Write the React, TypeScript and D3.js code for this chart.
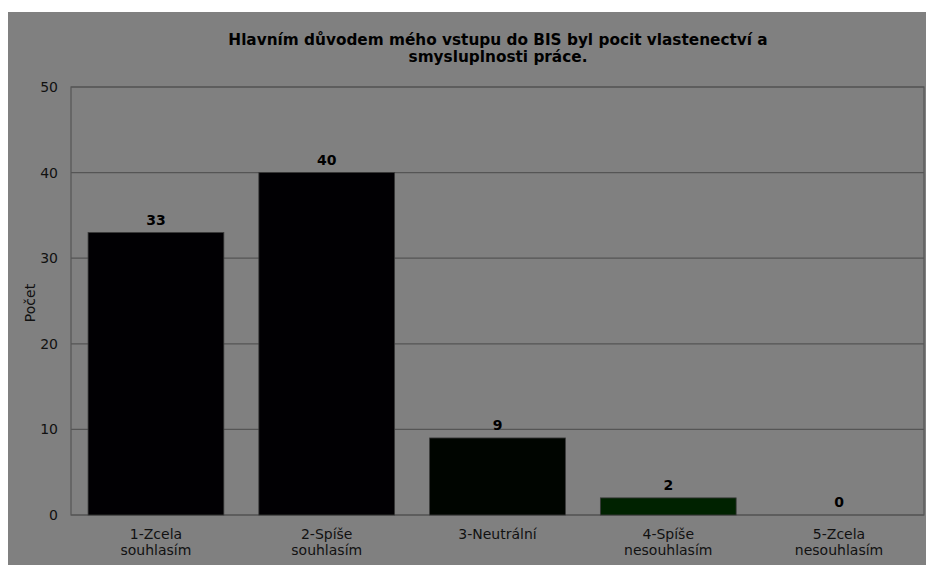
import React from "react";
import * as d3 from "d3";

const categories: string[][] = [
  ["1-Zcela", "souhlasím"],
  ["2-Spíše", "souhlasím"],
  ["3-Neutrální"],
  ["4-Spíše", "nesouhlasím"],
  ["5-Zcela", "nesouhlasím"],
];
const values: number[] = [33, 40, 9, 2, 0];
const barColors: string[] = ["#010003", "#010003", "#000500", "#002200", "#003000"];
const yTicks: number[] = [0, 10, 20, 30, 40, 50];
const titleLines: string[] = [
  "Hlavním důvodem mého vstupu do BIS byl pocit vlastenectví a",
  "smysluplnosti práce.",
];
const yLabel = "Počet";

export default function App() {
  const W = 926;
  const H = 565;
  const left = 71;
  const right = 924;
  const top = 87;
  const bottom = 515;
  const x = d3
    .scaleBand<number>()
    .domain(values.map((_, i) => i))
    .range([left, right])
    .paddingInner(0.205)
    .paddingOuter(0.1);
  const y = d3.scaleLinear().domain([0, 50]).range([bottom, top]);
  const font = "DejaVu Sans, sans-serif";
  const cx = 498;
  return (
    <svg
      width={W}
      height={H}
      style={{ position: "absolute", left: 0, top: 0, background: "#fff" }}
      fontFamily={font}
    >
      <rect x={8} y={12} width={W - 8} height={H - 12} fill="#808080" />
      {titleLines.map((t, i) => (
        <text
          key={i}
          x={cx}
          y={45 + i * 17}
          textAnchor="middle"
          fontSize={15.3}
          fontWeight="bold"
          fill="#000"
        >
          {t}
        </text>
      ))}
      {yTicks.map((t) => (
        <g key={t}>
          <line x1={left} x2={right} y1={y(t)} y2={y(t)} stroke="#555" strokeWidth={1.2} />
          <text x={58} y={y(t) + 5} textAnchor="end" fontSize={14} fill="#111">
            {t}
          </text>
        </g>
      ))}
      <rect
        x={left}
        y={top}
        width={right - left}
        height={bottom - top}
        fill="none"
        stroke="#555"
        strokeWidth={1.2}
      />
      {values.map((v, i) => (
        <g key={i}>
          {v > 0 && (
            <rect
              x={x(i)!}
              y={y(v)}
              width={x.bandwidth()}
              height={y(0) - y(v)}
              fill={barColors[i]}
              stroke="#3a3a3a"
              strokeWidth={0.8}
            />
          )}
          <text
            x={x(i)! + x.bandwidth() / 2}
            y={y(v) - 8}
            textAnchor="middle"
            fontSize={14}
            fontWeight="bold"
            fill="#000"
          >
            {v}
          </text>
          {categories[i].map((line, j) => (
            <text
              key={j}
              x={x(i)! + x.bandwidth() / 2}
              y={539 + j * 16}
              textAnchor="middle"
              fontSize={14}
              fill="#111"
            >
              {line}
            </text>
          ))}
        </g>
      ))}
      <text
        transform={`translate(35,303) rotate(-90)`}
        textAnchor="middle"
        fontSize={14}
        fill="#111"
      >
        {yLabel}
      </text>
    </svg>
  );
}
